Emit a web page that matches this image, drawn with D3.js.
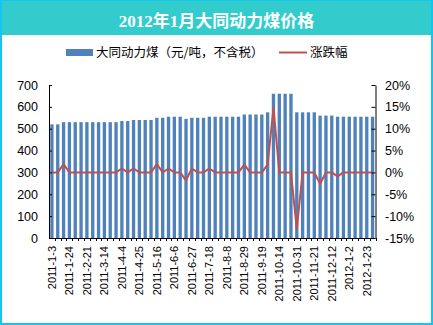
<!DOCTYPE html>
<html><head><meta charset="utf-8">
<script src="https://cdn.jsdelivr.net/npm/d3@7/dist/d3.min.js"></script>
<style>
html,body{margin:0;padding:0;background:#fff;}
svg{display:block;}
</style></head>
<body>
<script>
const titleText = "2012年1月大同动力煤价格";
const barLabel = "大同动力煤（元/吨，不含税）";
const lineLabel = "涨跌幅";
const categories = [
 "2011-1-3","2011-1-10","2011-1-17","2011-1-24","2011-1-31","2011-2-14","2011-2-21","2011-2-28",
 "2011-3-7","2011-3-14","2011-3-21","2011-3-28","2011-4-4","2011-4-11","2011-4-18","2011-4-25",
 "2011-5-2","2011-5-9","2011-5-16","2011-5-23","2011-5-30","2011-6-6","2011-6-13","2011-6-20",
 "2011-6-27","2011-7-4","2011-7-11","2011-7-18","2011-7-25","2011-8-1","2011-8-8","2011-8-15",
 "2011-8-22","2011-8-29","2011-9-5","2011-9-12","2011-9-19","2011-9-26","2011-10-10","2011-10-14",
 "2011-10-17","2011-10-24","2011-10-31","2011-11-7","2011-11-14","2011-11-21","2011-11-28","2011-12-5",
 "2011-12-12","2011-12-19","2011-12-26","2012-1-2","2012-1-9","2012-1-16","2012-1-23","2012-1-30"
];
const prices = [
 520,520,530,530,530,530,530,530,530,530,530,530,535,535,540,540,
 540,540,550,550,555,555,555,545,550,550,550,555,555,555,555,555,
 555,565,565,565,565,575,660,660,660,660,575,575,575,575,560,560,
 560,555,555,555,555,555,555,555
];
const changes = [
 0,0,1.9,0,0,0,0,0,0,0,0,0,0.9,0,0.9,0,
 0,0,1.9,0,0.9,0,0,-1.8,0.9,0,0,0.9,0,0,0,0,
 0,1.8,0,0,0,1.8,14.8,0,0,0,-12.9,0,0,0,-2.6,0,
 0,-0.9,0,0,0,0,0,0
];
const leftTicks = [0,100,200,300,400,500,600,700];
const rightTicks = [-15,-10,-5,0,5,10,15,20];

const W = 433, H = 325;
const svg = d3.select("body").append("svg").attr("width", W).attr("height", H);

// frame & title bar
svg.append("rect").attr("x",0).attr("y",0).attr("width",W).attr("height",H).attr("fill","#12C6F0");
svg.append("rect").attr("x",2).attr("y",1).attr("width",W-4).attr("height",H-3).attr("fill","#ffffff");
svg.append("rect").attr("x",2).attr("y",1).attr("width",W-4).attr("height",34).attr("fill","#33CCCC");
svg.append("text").attr("x",W/2).attr("y",27).attr("text-anchor","middle")
  .attr("fill","#fff").attr("font-weight","bold").attr("font-size","17px")
  .attr("font-family","'Liberation Serif','Noto Sans CJK SC',serif").text(titleText);

// legend
const lg = svg.append("g").attr("font-family","'Noto Sans CJK SC',sans-serif").attr("font-size","12.5px");
lg.append("rect").attr("x",66).attr("y",49).attr("width",27).attr("height",7).attr("fill","#4F81BD");
lg.append("text").attr("x",96).attr("y",56.5).text(barLabel);
lg.append("line").attr("x1",279).attr("x2",307).attr("y1",52.5).attr("y2",52.5).attr("stroke","#C0504D").attr("stroke-width",2);
lg.append("text").attr("x",310).attr("y",56.5).text(lineLabel);

// scales
const x0 = 49, x1 = 375.5, yTop = 85, yBot = 238;
const x = d3.scaleBand().domain(categories).range([x0,x1]).paddingInner(0.43).paddingOuter(0.215);
const yL = d3.scaleLinear().domain([0,700]).range([yBot,yTop]);
const yR = d3.scaleLinear().domain([-15,20]).range([yBot,yTop]);

// bars
svg.append("g").selectAll("rect").data(prices).join("rect")
  .attr("x",(d,i)=>x(categories[i])).attr("width",x.bandwidth())
  .attr("y",d=>yL(d)).attr("height",d=>yL(0)-yL(d)).attr("fill","#4F81BD");

// line
const line = d3.line().x((d,i)=>x(categories[i])+x.bandwidth()/2).y(d=>yR(d));
svg.append("path").datum(changes).attr("d",line).attr("fill","none")
  .attr("stroke","#C0504D").attr("stroke-width",2).attr("stroke-linejoin","round");

// left axis
const axL = svg.append("g").attr("transform",`translate(${x0},0)`)
  .call(d3.axisLeft(yL).tickValues(leftTicks).tickSizeInner(-3).tickSizeOuter(0).tickPadding(11));
axL.selectAll("text").attr("font-size","12.5px").attr("font-family","'Liberation Sans',Arial,sans-serif").attr("fill","#000");
axL.selectAll("line,path").attr("stroke","#000");

// right axis
const axR = svg.append("g").attr("transform",`translate(${x1},0)`)
  .call(d3.axisRight(yR).tickValues(rightTicks).tickFormat(d=>d+"%").tickSizeInner(-4).tickSizeOuter(0).tickPadding(9.5));
axR.selectAll("text").attr("font-size","12.5px").attr("font-family","'Liberation Sans',Arial,sans-serif").attr("fill","#000");
axR.selectAll("line,path").attr("stroke","#000");

// bottom axis
const bx = svg.append("g");
bx.append("line").attr("x1",x0).attr("x2",x1).attr("y1",yBot+0.5).attr("y2",yBot+0.5).attr("stroke","#000");
const step = x.step();
bx.selectAll("line.t").data(categories).join("line").attr("class","t")
  .attr("x1",d=>Math.round(x(d)-step*x.paddingInner()/2+step)+0.5)
  .attr("x2",d=>Math.round(x(d)-step*x.paddingInner()/2+step)+0.5)
  .attr("y1",yBot).attr("y2",yBot+3).attr("stroke","#000");
bx.selectAll("text").data(categories.filter((d,i)=>i%3===0)).join("text")
  .attr("transform",d=>`translate(${x(d)+x.bandwidth()/2},${yBot+8}) rotate(-90)`)
  .attr("text-anchor","end").attr("dominant-baseline","central")
  .attr("font-size","11px").attr("font-family","'Liberation Sans',Arial,sans-serif")
  .text(d=>d);
</script>
</body></html>
